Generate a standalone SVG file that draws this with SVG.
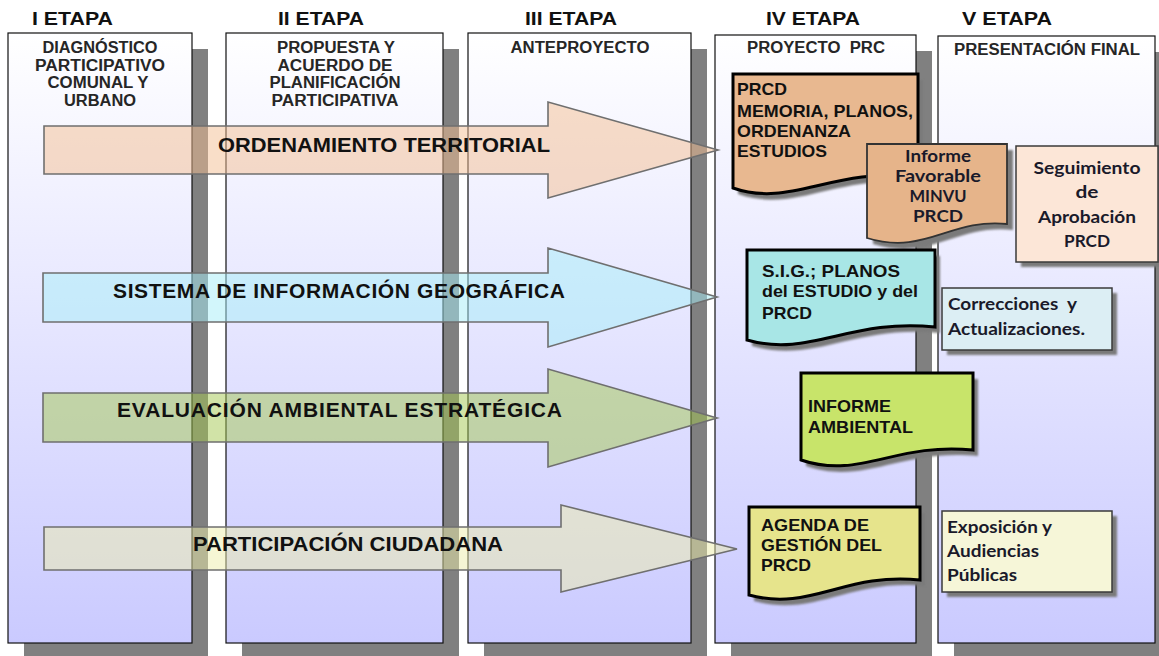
<svg xmlns="http://www.w3.org/2000/svg" width="1159" height="656" viewBox="0 0 1159 656">
<defs>
<linearGradient id="colbg" gradientUnits="userSpaceOnUse" x1="0" y1="33" x2="0" y2="643">
<stop offset="0" stop-color="#FFFFFF"/>
<stop offset="1" stop-color="#CACAFF"/>
</linearGradient>
<filter id="soft" x="-10%" y="-10%" width="130%" height="130%">
<feGaussianBlur stdDeviation="1.2"/>
</filter>
</defs>
<style>
.col{fill:url(#colbg);stroke:#111;stroke-width:1.2}
.colsh{fill:#808080}
.hdr{font-family:"Liberation Sans",Arial,sans-serif;font-weight:bold;font-size:19px;fill:#111}
.sub{font-family:"Liberation Sans",Arial,sans-serif;font-weight:bold;font-size:16px;fill:#262626;text-anchor:middle}
.arr{stroke:#6f6f6f;stroke-width:1.6;fill-opacity:0.5}
.atx{font-family:"Liberation Sans",Arial,sans-serif;font-weight:bold;font-size:21px;fill:#111}
.doc{stroke:#000;stroke-width:3}
.docthin{stroke:#333;stroke-width:1.8}
.sh{fill:#7a7a7a;filter:url(#soft)}
.box{stroke:#3a3a3a;stroke-width:1.5}
.dtx{font-family:"Liberation Sans",Arial,sans-serif;font-weight:bold;font-size:17px;fill:#111}
.ctx{font-family:Lato,"Open Sans",sans-serif;font-weight:bold;font-size:17px;fill:#1a1a2a}
</style>

<g id="col1">
<rect class="colsh" x="24" y="49" width="184" height="610"/>
<rect class="col" x="8" y="33" width="184" height="610"/>
<text class="hdr" x="32" y="25" textLength="81" lengthAdjust="spacingAndGlyphs">I ETAPA</text>
<text class="sub" x="100" y="53" textLength="115" lengthAdjust="spacingAndGlyphs">DIAGNÓSTICO</text>
<text class="sub" x="100" y="71" textLength="130" lengthAdjust="spacingAndGlyphs">PARTICIPATIVO</text>
<text class="sub" x="98" y="88" textLength="101" lengthAdjust="spacingAndGlyphs">COMUNAL Y</text>
<text class="sub" x="100" y="106" textLength="72" lengthAdjust="spacingAndGlyphs">URBANO</text>
</g>

<g id="col2">
<rect class="colsh" x="242" y="49" width="217" height="610"/>
<rect class="col" x="226" y="33" width="217" height="610"/>
<text class="hdr" x="278" y="25" textLength="86" lengthAdjust="spacingAndGlyphs">II ETAPA</text>
<text class="sub" x="336" y="53" textLength="118" lengthAdjust="spacingAndGlyphs">PROPUESTA Y</text>
<text class="sub" x="335" y="71" textLength="115" lengthAdjust="spacingAndGlyphs">ACUERDO DE</text>
<text class="sub" x="335" y="88" textLength="131" lengthAdjust="spacingAndGlyphs">PLANIFICACIÓN</text>
<text class="sub" x="335" y="106" textLength="127" lengthAdjust="spacingAndGlyphs">PARTICIPATIVA</text>
</g>

<g id="col3">
<rect class="colsh" x="484" y="49" width="223" height="610"/>
<rect class="col" x="468" y="33" width="223" height="610"/>
<text class="hdr" x="525" y="25" textLength="92" lengthAdjust="spacingAndGlyphs">III ETAPA</text>
<text class="sub" x="580" y="53" textLength="139" lengthAdjust="spacingAndGlyphs">ANTEPROYECTO</text>
</g>

<g id="col4">
<rect class="colsh" x="731" y="51" width="201" height="608"/>
<rect class="col" x="715" y="35" width="201" height="608"/>
<text class="hdr" x="766" y="25" textLength="94" lengthAdjust="spacingAndGlyphs">IV ETAPA</text>
<text class="sub" x="816" y="53" textLength="138" lengthAdjust="spacingAndGlyphs" xml:space="preserve">PROYECTO  PRC</text>
</g>

<g id="col5">
<rect class="colsh" x="954" y="52" width="217" height="607"/>
<rect class="col" x="938" y="36" width="217" height="607"/>
<text class="hdr" x="962" y="25" textLength="90" lengthAdjust="spacingAndGlyphs">V ETAPA</text>
<text class="sub" x="1047" y="55" textLength="186" lengthAdjust="spacingAndGlyphs">PRESENTACIÓN FINAL</text>
</g>

<g id="connectors">
<polygon class="arr" fill="#F3BE92" points="44,126 548,126 548,102 718,150 548,198 548,174 44,174"/>
<polygon class="arr" fill="#A6EEF8" points="43,273 548,273 548,248 717,297 548,347 548,322 43,322"/>
<polygon class="arr" fill="#A4C850" points="43,393 548,393 548,369 717,418 548,467 548,442 43,442"/>
<polygon class="arr" fill="#EEEEAA" points="44,527 561,527 561,505 737,549 561,592 561,570 44,570"/>
<text class="atx" x="218" y="152" textLength="332" lengthAdjust="spacingAndGlyphs">ORDENAMIENTO TERRITORIAL</text>
<text class="atx" x="113" y="298" textLength="452" lengthAdjust="spacing">SISTEMA DE INFORMACIÓN GEOGRÁFICA</text>
<text class="atx" x="117" y="417" textLength="445" lengthAdjust="spacing">EVALUACIÓN AMBIENTAL ESTRATÉGICA</text>
<text class="atx" x="193" y="551" textLength="310" lengthAdjust="spacingAndGlyphs">PARTICIPACIÓN CIUDADANA</text>
</g>

<g id="prcd">
<path class="sh" transform="translate(5,6)" d="M733,74 H918 V176 C830,168 790,208 733,188 Z"/>
<path class="doc" fill="#E8B890" d="M733,74 H918 V176 C830,168 790,208 733,188 Z"/>
<text class="dtx" x="737" y="95" font-size="19" textLength="50" lengthAdjust="spacingAndGlyphs">PRCD</text>
<text class="dtx" x="737" y="117" textLength="176" lengthAdjust="spacingAndGlyphs">MEMORIA, PLANOS,</text>
<text class="dtx" x="737" y="137" textLength="114" lengthAdjust="spacingAndGlyphs">ORDENANZA</text>
<text class="dtx" x="737" y="157" textLength="90" lengthAdjust="spacingAndGlyphs">ESTUDIOS</text>
</g>

<g id="informe-favorable">
<path class="sh" transform="translate(6,6)" d="M867,144 H1007 V224 C950,218 925,256 867,238 Z"/>
<path class="docthin" fill="#E6B48A" d="M867,144 H1007 V224 C950,218 925,256 867,238 Z"/>
<text class="ctx" x="938" y="162" text-anchor="middle" textLength="66" lengthAdjust="spacingAndGlyphs">Informe</text>
<text class="ctx" x="938" y="182" text-anchor="middle" textLength="86" lengthAdjust="spacingAndGlyphs">Favorable</text>
<text class="ctx" x="938" y="202" text-anchor="middle" textLength="57" lengthAdjust="spacingAndGlyphs">MINVU</text>
<text class="ctx" x="938" y="222" text-anchor="middle" textLength="50" lengthAdjust="spacingAndGlyphs">PRCD</text>
</g>

<g id="seguimiento">
<rect class="sh" x="1021" y="151" width="142" height="116"/>
<rect class="box" fill="#FCE6D7" x="1016" y="146" width="142" height="116"/>
<text class="ctx" x="1087" y="174" text-anchor="middle" textLength="107" lengthAdjust="spacingAndGlyphs">Seguimiento</text>
<text class="ctx" x="1087" y="198" text-anchor="middle" textLength="23" lengthAdjust="spacingAndGlyphs">de</text>
<text class="ctx" x="1087" y="223" text-anchor="middle" textLength="98" lengthAdjust="spacingAndGlyphs">Aprobación</text>
<text class="ctx" x="1087" y="247" text-anchor="middle" textLength="46" lengthAdjust="spacingAndGlyphs">PRCD</text>
</g>

<g id="sig">
<path class="sh" transform="translate(5,6)" d="M747,250 H935 V327 C850,318 810,358 747,340 Z"/>
<path class="doc" fill="#A8E6E6" d="M747,250 H935 V327 C850,318 810,358 747,340 Z"/>
<text class="dtx" x="762" y="277" textLength="138" lengthAdjust="spacingAndGlyphs">S.I.G.; PLANOS</text>
<text class="dtx" x="762" y="297" textLength="156" lengthAdjust="spacingAndGlyphs">del ESTUDIO y del</text>
<text class="dtx" x="762" y="319" textLength="50" lengthAdjust="spacingAndGlyphs">PRCD</text>
</g>

<g id="correcciones">
<rect class="sh" x="947" y="293" width="170" height="62"/>
<rect class="box" fill="#DCEEF4" x="942" y="288" width="170" height="62"/>
<text class="ctx" x="948" y="310" textLength="129" lengthAdjust="spacingAndGlyphs" xml:space="preserve">Correcciones  y</text>
<text class="ctx" x="948" y="335" textLength="137" lengthAdjust="spacingAndGlyphs">Actualizaciones.</text>
</g>

<g id="informe-ambiental">
<path class="sh" transform="translate(5,6)" d="M801,373 H973 V450 C895,442 860,480 801,460 Z"/>
<path class="doc" fill="#C8E46A" d="M801,373 H973 V450 C895,442 860,480 801,460 Z"/>
<text class="dtx" x="808" y="412" textLength="83" lengthAdjust="spacingAndGlyphs">INFORME</text>
<text class="dtx" x="808" y="433" textLength="105" lengthAdjust="spacingAndGlyphs">AMBIENTAL</text>
</g>

<g id="agenda">
<path class="sh" transform="translate(5,6)" d="M749,507 H920 V580 C845,572 810,612 749,595 Z"/>
<path class="doc" fill="#E6E48C" d="M749,507 H920 V580 C845,572 810,612 749,595 Z"/>
<text class="dtx" x="761" y="531" textLength="108" lengthAdjust="spacingAndGlyphs">AGENDA DE</text>
<text class="dtx" x="761" y="551" textLength="121" lengthAdjust="spacingAndGlyphs">GESTIÓN DEL</text>
<text class="dtx" x="761" y="571" textLength="50" lengthAdjust="spacingAndGlyphs">PRCD</text>
</g>

<g id="exposicion">
<rect class="sh" x="947" y="516" width="170" height="81"/>
<rect class="box" fill="#F6F6D8" x="942" y="511" width="170" height="81"/>
<text class="ctx" x="947" y="533" textLength="105" lengthAdjust="spacingAndGlyphs">Exposición y</text>
<text class="ctx" x="947" y="557" textLength="92" lengthAdjust="spacingAndGlyphs">Audiencias</text>
<text class="ctx" x="947" y="581" textLength="70" lengthAdjust="spacingAndGlyphs">Públicas</text>
</g>
</svg>
